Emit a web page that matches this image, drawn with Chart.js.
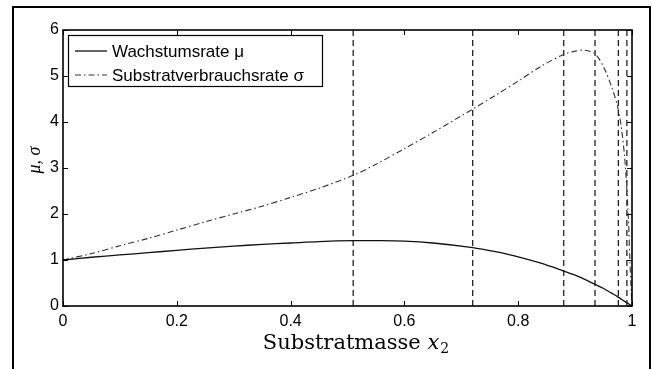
<!DOCTYPE html>
<html>
<head>
<meta charset="utf-8">
<script src="https://cdn.jsdelivr.net/npm/chart.js@4.4.0/dist/chart.umd.min.js"></script>
<style>
  body { margin: 0; background: #fff; }
  #frame { position: absolute; left: 12px; top: 6px; width: 635px; height: 420px; border: 2px solid #000; }
  #c { position: absolute; left: 0; top: 0; }
</style>
</head>
<body>
<div id="frame"></div>
<canvas id="c" width="653" height="369"></canvas>
<script>
// Substratmasse x2 (sample positions)
const xValues = [0, 0.05, 0.1, 0.15, 0.2, 0.25, 0.3, 0.35, 0.4, 0.45, 0.51, 0.55, 0.6, 0.65, 0.72,
                 0.76, 0.8, 0.84, 0.88, 0.9, 0.917, 0.935, 0.95, 0.964, 0.974, 0.981, 0.987, 0.991,
                 0.994, 0.996, 0.998, 1];
// Wachstumsrate mu
const muValues = [1.0, 1.06, 1.11, 1.16, 1.21, 1.26, 1.30, 1.34, 1.37, 1.40, 1.42, 1.42, 1.41, 1.37, 1.27,
                  1.18, 1.07, 0.93, 0.76, 0.67, 0.58, 0.47, 0.38, 0.28, 0.21, 0.15, 0.10, 0.07,
                  0.05, 0.03, 0.015, 0];
// Substratverbrauchsrate sigma
const sigmaValues = [1.0, 1.14, 1.31, 1.47, 1.65, 1.83, 2.0, 2.17, 2.36, 2.56, 2.84, 3.08, 3.42, 3.77, 4.28,
                     4.58, 4.89, 5.21, 5.47, 5.54, 5.56, 5.48, 5.2, 4.77, 4.37, 3.9, 3.25, 2.52,
                     1.8, 1.1, 0.5, 0];
// dashed vertical markers
const markerX = [0.51, 0.72, 0.88, 0.935, 0.976, 0.991];
const xTicks = [0, 0.2, 0.4, 0.6, 0.8, 1];
const yTicks = [0, 1, 2, 3, 4, 5, 6];
const seriesLabels = ['Wachstumsrate \u03BC', 'Substratverbrauchsrate \u03C3'];

const pts = vals => xValues.map((x, i) => ({ x: x, y: vals[i] }));

const datasets = [{
    label: seriesLabels[0],
    data: pts(muValues),
    borderColor: '#111',
    borderWidth: 1.3,
    pointRadius: 0,
    tension: 0.3,
    inLegend: true
}, {
    label: seriesLabels[1],
    data: pts(sigmaValues),
    borderColor: '#333',
    borderWidth: 1.1,
    borderDash: [6, 3, 1.5, 3],
    pointRadius: 0,
    tension: 0.3,
    inLegend: true
}];
markerX.forEach(x => {
    datasets.push({
        label: 'x=' + x,
        data: [{ x: x, y: 0 }, { x: x, y: 6 }],
        borderColor: '#222',
        borderWidth: 1.3,
        borderDash: [6, 4],
        pointRadius: 0
    });
});

// box around the axes, inward ticks on all four sides, axis titles
const axesFrame = {
    id: 'axesFrame',
    afterDraw(chart) {
        const { ctx, chartArea: a, scales: { x, y } } = chart;
        ctx.save();
        ctx.strokeStyle = '#000';
        ctx.lineWidth = 1;
        ctx.beginPath();
        xTicks.forEach(v => {
            const px = Math.round(x.getPixelForValue(v)) + 0.5;
            ctx.moveTo(px, a.bottom); ctx.lineTo(px, a.bottom - 5);
            ctx.moveTo(px, a.top); ctx.lineTo(px, a.top + 5);
        });
        yTicks.forEach(v => {
            const py = Math.round(y.getPixelForValue(v)) + 0.5;
            ctx.moveTo(a.left, py); ctx.lineTo(a.left + 5, py);
            ctx.moveTo(a.right, py); ctx.lineTo(a.right - 5, py);
        });
        ctx.stroke();
        ctx.lineWidth = 1.6;
        ctx.strokeRect(a.left, a.top, a.right - a.left, a.bottom - a.top);

        // x axis title with italic x and subscript 2
        ctx.fillStyle = '#000';
        ctx.textBaseline = 'alphabetic';
        const base = 349;
        const f1 = '21px "DejaVu Serif"', f2 = 'italic 21px "DejaVu Serif"', f3 = '14px "DejaVu Serif"';
        ctx.font = f1; const w1 = ctx.measureText('Substratmasse ').width;
        ctx.font = f2; const w2 = ctx.measureText('x').width;
        ctx.font = f3; const w3 = ctx.measureText('2').width;
        const sx = 356 - (w1 + w2 + w3 + 1) / 2;
        ctx.font = f1; ctx.fillText('Substratmasse ', sx, base);
        ctx.font = f2; ctx.fillText('x', sx + w1, base);
        ctx.font = f3; ctx.fillText('2', sx + w1 + w2 + 1, base + 4);

        // y axis title
        ctx.translate(35, 160);
        ctx.rotate(-Math.PI / 2);
        ctx.textAlign = 'center';
        ctx.textBaseline = 'middle';
        ctx.font = 'italic 18px "Liberation Serif"';
        ctx.fillText('\u03BC, \u03C3', 0, 0);
        ctx.restore();
    }
};

const legendBox = {
    id: 'legendBox',
    afterDatasetsDraw(chart) {
        const { ctx, chartArea: a } = chart;
        const x0 = a.left + 5, y0 = a.top + 5, w = 254, h = 51;
        ctx.save();
        ctx.fillStyle = '#fff';
        ctx.fillRect(x0, y0, w, h);
        ctx.strokeStyle = '#000';
        ctx.lineWidth = 1.2;
        ctx.strokeRect(x0 + 0.5, y0 + 0.5, w, h);
        chart.data.datasets.filter(d => d.inLegend).forEach((d, i) => {
            const ly = y0 + 16 + i * 24;
            ctx.setLineDash(d.borderDash || []);
            ctx.strokeStyle = d.borderColor;
            ctx.lineWidth = d.borderWidth;
            ctx.beginPath();
            ctx.moveTo(x0 + 7, ly); ctx.lineTo(x0 + 39, ly);
            ctx.stroke();
            ctx.setLineDash([]);
            ctx.fillStyle = '#000';
            ctx.font = '17px "Liberation Sans"';
            ctx.textBaseline = 'middle';
            ctx.fillText(d.label, x0 + 44, ly + 1);
        });
        ctx.restore();
    }
};

new Chart(document.getElementById('c'), {
    type: 'line',
    data: { datasets: datasets },
    options: {
        responsive: false,
        animation: false,
        devicePixelRatio: 1,
        layout: { padding: { top: 30, right: 21, left: 0, bottom: 0 } },
        plugins: { legend: { display: false }, tooltip: { enabled: false } },
        scales: {
            x: {
                type: 'linear', min: 0, max: 1,
                grid: { display: false, drawTicks: false, tickLength: 0 }, border: { display: false },
                afterBuildTicks: s => { s.ticks = xTicks.map(v => ({ value: v })); },
                afterFit: s => { s.height = 63; },
                ticks: {
                    padding: 6, color: '#000', maxRotation: 0,
                    font: { family: 'Liberation Sans', size: 16 },
                    callback: v => String(v)
                }
            },
            y: {
                type: 'linear', min: 0, max: 6,
                grid: { display: false, drawTicks: false, tickLength: 0 }, border: { display: false },
                afterBuildTicks: s => { s.ticks = yTicks.map(v => ({ value: v })); },
                afterFit: s => { s.width = 63; },
                ticks: {
                    padding: 4, color: '#000',
                    font: { family: 'Liberation Sans', size: 16 }
                }
            }
        }
    },
    plugins: [axesFrame, legendBox]
});
</script>
</body>
</html>
